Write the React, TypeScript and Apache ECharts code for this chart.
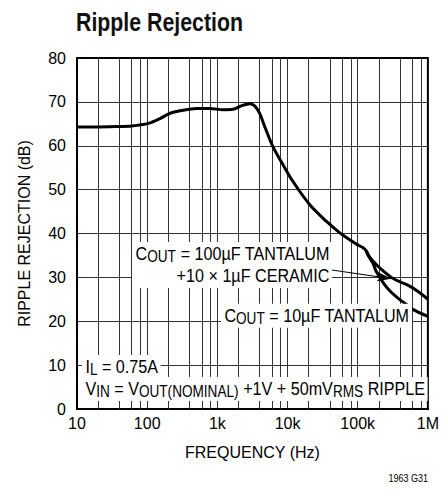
import React, { useEffect, useRef } from 'react';
import * as echarts from 'echarts';

const FONT = "'Liberation Sans', Arial, sans-serif";
const NARROW = 0.82;
const NOTE_NARROW = 0.85;

// Axis ticks
const xTickValues = [10, 100, 1000, 10000, 100000, 1000000];
const xTickLabels = ['10', '100', '1k', '10k', '100k', '1M'];
const minorGridFreqs = [
  20, 40, 60, 80,
  200, 400, 600, 800,
  2000, 4000, 6000, 8000,
  20000, 40000, 60000, 80000,
  200000, 400000, 600000, 800000,
];

// Shared part of both curves (Hz, dB)
const sharedFreq = [10, 20, 40, 60, 104, 152, 212, 324, 509, 785, 1200, 1670, 2200, 2900, 3400, 4010, 4720, 6190, 8590, 11900, 20600, 35600, 55100, 80000, 100000, 118000, 133000];
const sharedDb = [64.3, 64.3, 64.4, 64.5, 65.1, 66.2, 67.4, 68.1, 68.5, 68.5, 68.2, 68.3, 69.1, 69.6, 69.1, 67.4, 64.4, 59.8, 55.7, 51.9, 46.6, 42.8, 40.2, 38.4, 37.4, 36.8, 36.0];

// COUT = 10µF TANTALUM tail
const tantalumTailFreq = [147000, 164000, 183000, 240000, 300000, 394000, 500000, 608000, 1000000];
const tantalumTailDb = [34.5, 33.3, 31.4, 28.4, 26.6, 25.0, 23.8, 22.7, 21.1];

// COUT = 100µF TANTALUM + 10 x 1µF CERAMIC tail
const ceramicTailFreq = [139000, 170000, 204000, 300000, 400000, 550000, 750000, 1000000];
const ceramicTailDb = [35.2, 33.5, 32.2, 30.0, 29.0, 28.0, 26.6, 25.0];

// Annotation arrow (Hz, dB)
const arrowFrom = [42000, 31.7];
const arrowTo = [300000, 29.7];

const zip = (xs: number[], ys: number[]) => xs.map((x, i) => [x, ys[i]]);

export default function App() {
  const ref = useRef<HTMLDivElement>(null);

  useEffect(() => {
    if (!ref.current) return;
    const chart = echarts.init(ref.current, undefined, { renderer: 'svg' });

    const tantalum = zip(sharedFreq, sharedDb).concat(zip(tantalumTailFreq, tantalumTailDb));
    const ceramic = [[sharedFreq[sharedFreq.length - 1], sharedDb[sharedDb.length - 1]]].concat(
      zip(ceramicTailFreq, ceramicTailDb)
    );

    const m = { fontFamily: FONT, fontSize: 19, lineHeight: 22, fill: '#000' };
    const s = { fontFamily: FONT, fontSize: 16, lineHeight: 12, verticalAlign: 'bottom', fill: '#000' };
    const richR = { m: { ...m, align: 'right' }, s: { ...s, align: 'right' } };
    const rich = { m, s };

    const boxText = (text: string, x: number, y: number, align: string, vAlign: string, r: any) => ({
      type: 'text',
      x,
      y,
      scaleX: NOTE_NARROW,
      z: 50,
      silent: true,
      style: {
        text,
        rich: r,
        align,
        verticalAlign: vAlign,
        fill: '#000',
        fontFamily: FONT,
        fontSize: 19,
        backgroundColor: '#fff',
        padding: [1, 3, 1, 4],
      },
    });

    chart.setOption({
      animation: false,
      backgroundColor: '#fff',
      grid: {
        left: 77,
        right: 13.5,
        top: 58,
        bottom: 82,
        show: true,
        borderColor: '#000',
        borderWidth: 2,
        backgroundColor: 'transparent',
        containLabel: false,
      },
      xAxis: {
        type: 'log',
        logBase: 10,
        min: 10,
        max: 1000000,
        name: 'FREQUENCY (Hz)',
        nameLocation: 'middle',
        nameGap: 35,
        nameTextStyle: { fontFamily: FONT, fontSize: 16, color: '#000' },
        axisLine: { show: true, lineStyle: { color: '#000', width: 2 } },
        axisTick: { show: false },
        axisLabel: {
          fontFamily: FONT,
          fontSize: 16,
          color: '#000',
          margin: 6,
          formatter: (v: number) => {
            const i = xTickValues.findIndex((t) => Math.abs(Math.log10(t) - Math.log10(v)) < 1e-6);
            return i >= 0 ? xTickLabels[i] : '';
          },
        },
        splitLine: { show: true, showMinLine: false, showMaxLine: false, lineStyle: { color: '#333', width: 1 } },
      },
      yAxis: {
        type: 'value',
        min: 0,
        max: 80,
        interval: 10,
        name: 'RIPPLE REJECTION (dB)',
        nameLocation: 'middle',
        nameGap: 45,
        nameTextStyle: { fontFamily: FONT, fontSize: 16, color: '#000' },
        axisLine: { show: true, lineStyle: { color: '#000', width: 2 } },
        axisTick: { show: false },
        axisLabel: { fontFamily: FONT, fontSize: 16, color: '#000', margin: 11 },
        splitLine: { show: true, showMinLine: false, showMaxLine: false, lineStyle: { color: '#333', width: 1 } },
      },
      series: [
        {
          type: 'line',
          name: 'grid',
          data: [],
          z: 1,
          silent: true,
          markLine: {
            silent: true,
            symbol: ['none', 'none'],
            label: { show: false },
            lineStyle: { color: '#333', width: 1, type: 'solid' },
            data: minorGridFreqs.map((f) => ({ xAxis: f })),
          },
        },
        {
          type: 'line',
          name: 'COUT = 10µF TANTALUM',
          data: tantalum,
          showSymbol: false,
          smooth: 0.3,
          z: 10,
          lineStyle: { color: '#000', width: 3 },
        },
        {
          type: 'line',
          name: 'COUT = 100µF TANTALUM +10 × 1µF CERAMIC',
          data: ceramic,
          showSymbol: false,
          smooth: 0.3,
          z: 10,
          lineStyle: { color: '#000', width: 3 },
          markLine: {
            silent: true,
            symbol: ['none', 'arrow'],
            symbolSize: [7, 14],
            label: { show: false },
            lineStyle: { color: '#000', width: 1, type: 'solid' },
            data: [[{ coord: arrowFrom }, { coord: arrowTo }]],
          },
        },
      ],
      graphic: [
        {
          type: 'text',
          x: 76,
          y: 21.7,
          scaleX: NARROW,
          silent: true,
          style: {
            text: 'Ripple Rejection',
            align: 'left',
            verticalAlign: 'middle',
            fontFamily: FONT,
            fontWeight: 'bold',
            fontSize: 26,
            fill: '#111',
          },
        },
        boxText('{m|C}{s|OUT}{m| = 100µF TANTALUM}\n{m|+10 × 1µF CERAMIC}', 332, 242, 'right', 'top', richR),
        boxText('{m|C}{s|OUT}{m| = 10µF TANTALUM}', 221, 315.7, 'left', 'middle', rich),
        boxText('{m|I}{s|L}{m| = 0.75A}', 82, 367, 'left', 'middle', rich),
        boxText(
          '{m|V}{s|IN}{m| = V}{s|OUT(NOMINAL)}{m| +1V + 50mV}{s|RMS}{m| RIPPLE}',
          82,
          389,
          'left',
          'middle',
          rich
        ),
        {
          type: 'text',
          x: 428,
          y: 478,
          scaleX: NARROW,
          silent: true,
          style: {
            text: '1963 G31',
            align: 'right',
            verticalAlign: 'middle',
            fontFamily: FONT,
            fontSize: 11,
            fill: '#000',
          },
        },
      ],
    });

    return () => chart.dispose();
  }, []);

  return (
    <div
      ref={ref}
      style={{ position: 'absolute', left: 0, top: 0, width: 442, height: 491 }}
    />
  );
}
